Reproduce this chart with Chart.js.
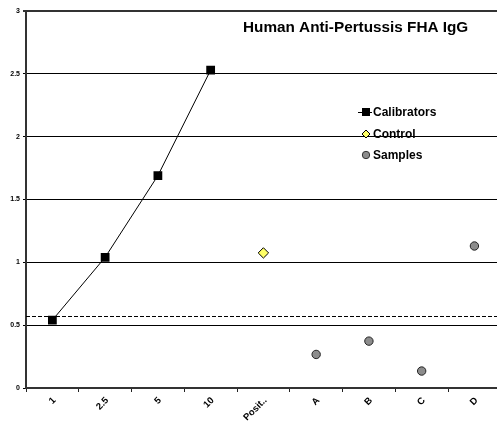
<!DOCTYPE html>
<html>
<head>
<meta charset="utf-8">
<script src="https://cdn.jsdelivr.net/npm/chart.js@4/dist/chart.umd.min.js"></script>
<style>
  html, body { margin: 0; padding: 0; background: #fff; }
  #wrap { width: 497px; height: 422px; overflow: hidden; position: relative; }
  #box { width: 507px; height: 422px; position: absolute; left: 0; top: 0; }
</style>
</head>
<body>
<div id="wrap"><div id="box"><canvas id="c"></canvas></div></div>
<script>
// ---- data ----
const chartTitle = "Human Anti-Pertussis FHA IgG";
const categories = ["1", "2.5", "5", "10", "Posit..", "A", "B", "C", "D"];
const calibrators = [0.54, 1.04, 1.69, 2.53, null, null, null, null, null];
const control = [null, null, null, null, 1.075, null, null, null, null];
const samples = [null, null, null, null, null, 0.267, 0.373, 0.135, 1.13];
const cutoff = 0.569;
const yTicks = [0, 0.5, 1, 1.5, 2, 2.5, 3];
const seriesNames = ["Calibrators", "Control", "Samples"];

const FONT = "'Liberation Sans', Arial, sans-serif";

const overlay = {
  id: 'overlay',
  beforeDatasetsDraw(chart) {
    const {ctx, chartArea, scales} = chart;
    const y = Math.round(scales.y.getPixelForValue(cutoff)) + 0.5;
    ctx.save();
    ctx.strokeStyle = '#000';
    ctx.lineWidth = 1;
    ctx.setLineDash([4, 2]);
    ctx.beginPath();
    ctx.moveTo(chartArea.left, y);
    ctx.lineTo(chartArea.right, y);
    ctx.stroke();
    ctx.restore();
  },
  afterDraw(chart) {
    const {ctx} = chart;
    ctx.save();
    // title
    ctx.fillStyle = '#000';
    ctx.font = "bold 15.3px " + FONT;
    ctx.textBaseline = 'alphabetic';
    ctx.textAlign = 'left';
    ctx.fillText(chartTitle, 243, 32);
    // legend
    ctx.font = "bold 12px " + FONT;
    ctx.textBaseline = 'middle';
    const rows = [112, 134, 155];
    chart.data.datasets.forEach((ds, i) => {
      const ry = rows[i];
      const mx = 366;
      if (i === 0) {
        ctx.strokeStyle = '#000';
        ctx.lineWidth = 1;
        ctx.beginPath();
        ctx.moveTo(358, ry + 0.5);
        ctx.lineTo(372, ry + 0.5);
        ctx.stroke();
        ctx.fillStyle = '#000';
        ctx.fillRect(mx - 4, ry - 4, 8, 8);
      } else if (i === 1) {
        ctx.fillStyle = ds.pointBackgroundColor;
        ctx.strokeStyle = '#000';
        ctx.lineWidth = 1;
        ctx.beginPath();
        ctx.moveTo(mx, ry - 4);
        ctx.lineTo(mx + 4, ry);
        ctx.lineTo(mx, ry + 4);
        ctx.lineTo(mx - 4, ry);
        ctx.closePath();
        ctx.fill();
        ctx.stroke();
      } else {
        ctx.fillStyle = ds.pointBackgroundColor;
        ctx.strokeStyle = '#333';
        ctx.lineWidth = 1;
        ctx.beginPath();
        ctx.arc(mx, ry, 3.7, 0, Math.PI * 2);
        ctx.fill();
        ctx.stroke();
      }
      ctx.fillStyle = '#000';
      ctx.fillText(ds.label, 373, ry + 0.5);
    });
    ctx.restore();
  }
};

new Chart(document.getElementById('c'), {
  type: 'line',
  data: {
    labels: categories,
    datasets: [
      {
        label: seriesNames[0], data: calibrators,
        borderColor: '#000', borderWidth: 1,
        pointStyle: 'rect', pointRadius: 6.2,
        pointBackgroundColor: '#000', pointBorderColor: '#000', pointBorderWidth: 0,
        spanGaps: false
      },
      {
        label: seriesNames[1], data: control, showLine: false,
        pointStyle: 'rectRot', pointRadius: 5.2,
        pointBackgroundColor: '#ffff66', pointBorderColor: '#000', pointBorderWidth: 1
      },
      {
        label: seriesNames[2], data: samples, showLine: false,
        pointStyle: 'circle', pointRadius: 4.2,
        pointBackgroundColor: '#8c8c8c', pointBorderColor: '#222', pointBorderWidth: 1
      }
    ]
  },
  options: {
    responsive: true,
    maintainAspectRatio: false,
    animation: false,
    devicePixelRatio: 1,
    layout: { padding: { top: 11, left: 0, right: 0, bottom: 0 } },
    plugins: { legend: { display: false }, tooltip: { enabled: false }, title: { display: false } },
    scales: {
      x: {
        type: 'category',
        offset: true,
        grid: { offset: true, drawOnChartArea: false, drawTicks: true, tickLength: 4, color: '#222', lineWidth: 1 },
        border: { display: true, color: '#333', width: 2 },
        ticks: {
          autoSkip: false, minRotation: 45, maxRotation: 45, padding: 3, labelOffset: 2,
          font: { family: FONT, size: 9.5, weight: 'bold' }, color: '#000'
        },
        afterFit(s) { s.height = 34; }
      },
      y: {
        min: 0, max: 3,
        afterBuildTicks(s) { s.ticks = yTicks.map(v => ({ value: v })); },
        grid: {
          drawTicks: true, tickLength: 3,
          color: (c) => c.tick && c.tick.value === 3 ? '#333' : '#000',
          lineWidth: (c) => c.tick && (c.tick.value === 3) ? 2 : 1
        },
        border: { display: true, color: '#333', width: 2 },
        ticks: {
          padding: 3,
          font: { family: FONT, size: 7, weight: 'bold' }, color: '#000',
          callback: (v) => String(v)
        },
        afterFit(s) { s.width = 26; }
      }
    }
  },
  plugins: [overlay]
});
</script>
</body>
</html>
